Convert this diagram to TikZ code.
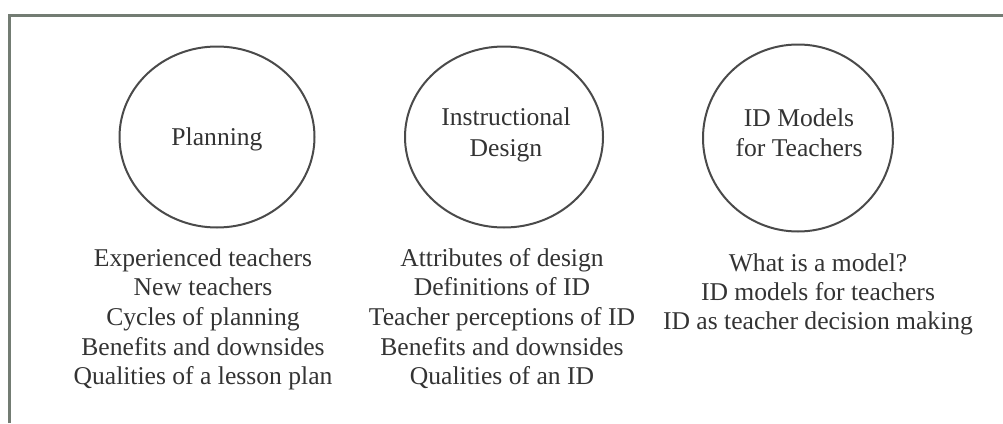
\documentclass[tikz,border=0pt]{standalone}
\usepackage{fontspec}
\setmainfont{Liberation Serif}
\usetikzlibrary{shapes.geometric}
\definecolor{framegray}{HTML}{737C73}
\definecolor{ringgray}{HTML}{4A4A4A}
\definecolor{inkgray}{HTML}{333333}
\begin{document}
\begin{tikzpicture}[x=1pt,y=-1pt,
  ring/.style={draw=ringgray,line width=2pt,ellipse,inner sep=0pt},
  txt/.style={anchor=base,inner sep=0pt,text=inkgray,font=\fontsize{25.6}{30}\selectfont}]
\useasboundingbox (0,0) rectangle (1003,423);
% frame: top and left edges
\draw[framegray,line width=3pt] (9,423) -- (9,15) -- (1003,15);

% topic circles
\node[ring,minimum width=195pt,minimum height=181pt] (c1) at (217,137) {};
\node[ring,minimum width=198pt,minimum height=181pt] (c2) at (504,137) {};
\node[ring,minimum width=190pt,minimum height=187pt] (c3) at (798,138) {};

% circle titles
\node[txt] (t1) at (217,145) {Planning};
\node[txt] (t2a) at (506,125) {Instructional};
\node[txt] (t2b) at (506,156) {Design};
\node[txt] (t3a) at (799,126) {ID Models};
\node[txt] (t3b) at (799,156) {for Teachers};

% subtopic lists
\foreach [count=\i] \s in {Experienced teachers,New teachers,Cycles of planning,Benefits and downsides,Qualities of a lesson plan}
  \node[txt] (p\i) at (203,{266+29.7*(\i-1)}) {\s};
\foreach [count=\i] \s in {Attributes of design,Definitions of ID,Teacher perceptions of ID,Benefits and downsides,Qualities of an ID}
  \node[txt] (d\i) at (502,{266+29.7*(\i-1)}) {\s};
\foreach [count=\i] \s in {What is a model?,ID models for teachers,ID as teacher decision making}
  \node[txt] (m\i) at (818,{271+29*(\i-1)}) {\s};
\end{tikzpicture}
\end{document}
